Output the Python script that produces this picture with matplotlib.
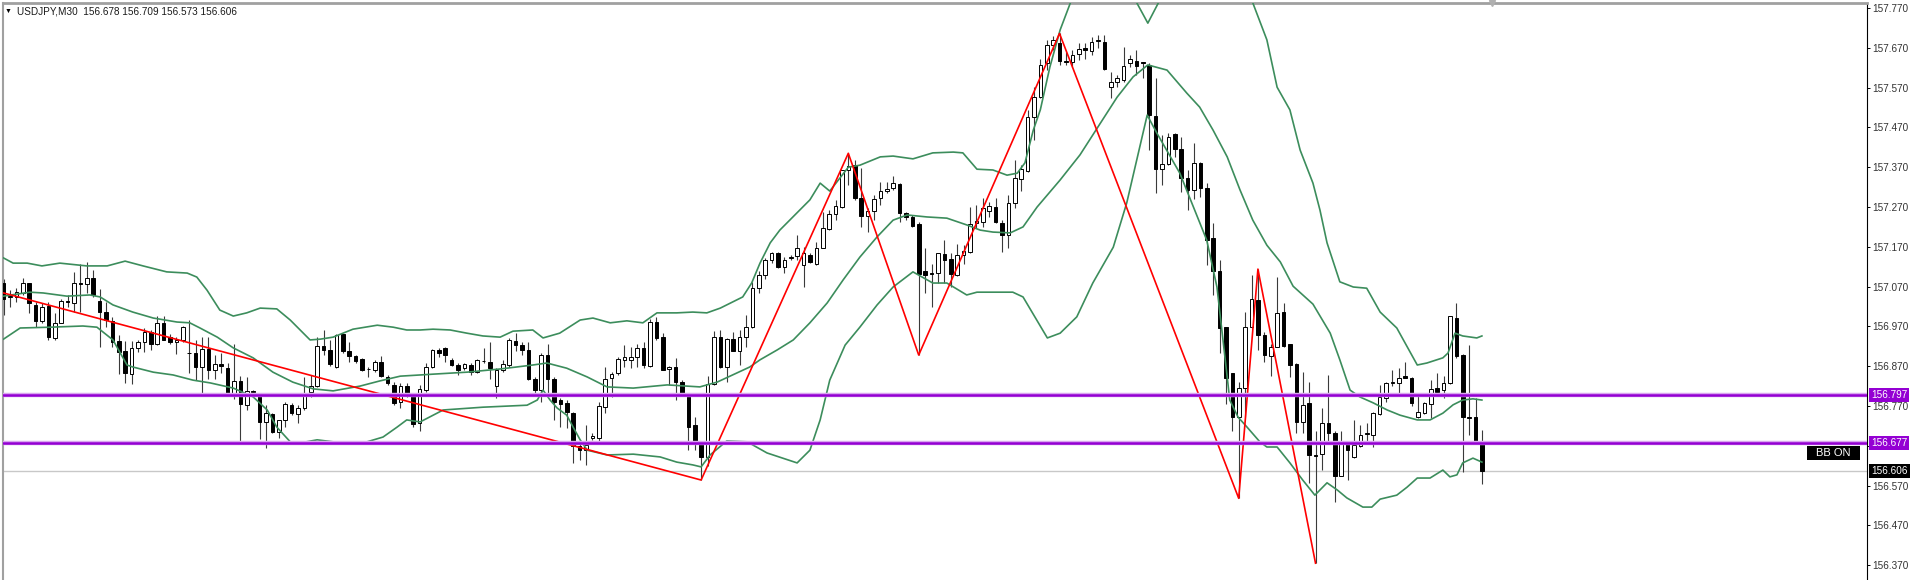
import numpy as np
import matplotlib
matplotlib.use("Agg")
import matplotlib.pyplot as plt
from matplotlib.patches import Rectangle
from matplotlib.transforms import blended_transform_factory

plt.rcParams['font.family'] = ['Liberation Sans', 'DejaVu Sans']

# USDJPY M30 candles
opens = [
    157.078, 157.044, 157.045, 157.055, 157.078, 157.025, 156.983, 157.022, 156.942, 156.979,
    157.033, 157.030, 157.078, 157.076, 157.092, 157.034, 157.007, 156.983, 156.933, 156.908,
    156.850, 156.916, 156.930, 156.955, 156.927, 156.978, 156.944, 156.932, 156.936, 156.903,
    156.902, 156.869, 156.912, 156.860, 156.875, 156.865, 156.800, 156.834, 156.772, 156.808,
    156.803, 156.731, 156.750, 156.705, 156.735, 156.772, 156.750, 156.764, 156.806, 156.821,
    156.921, 156.911, 156.869, 156.950, 156.908, 156.896, 156.887, 156.862, 156.860, 156.880,
    156.844, 156.823, 156.781, 156.819, 156.798, 156.727, 156.809, 156.867, 156.911, 156.915,
    156.886, 156.873, 156.865, 156.873, 156.856, 156.884, 156.881, 156.819, 156.860, 156.873,
    156.933, 156.923, 156.911, 156.837, 156.809, 156.898, 156.839, 156.785, 156.778, 156.752,
    156.670, 156.659, 156.689, 156.689, 156.767, 156.840, 156.852, 156.886, 156.886, 156.894,
    156.915, 156.871, 156.980, 156.943, 156.862, 156.867, 156.831, 156.799, 156.722, 156.680,
    156.643, 156.825, 156.943, 156.867, 156.938, 156.909, 156.943, 156.969, 157.066, 157.099,
    157.137, 157.154, 157.120, 157.143, 157.147, 157.124, 157.149, 157.127, 157.168, 157.214,
    157.252, 157.269, 157.363, 157.376, 157.292, 157.247, 157.261, 157.292, 157.311, 157.317,
    157.328, 157.256, 157.246, 157.227, 157.108, 157.102, 157.103, 157.151, 157.139, 157.099,
    157.149, 157.158, 157.229, 157.233, 157.261, 157.269, 157.231, 157.200, 157.281, 157.340,
    157.361, 157.495, 157.547, 157.631, 157.677, 157.683, 157.637, 157.635, 157.654, 157.669,
    157.663, 157.688, 157.685, 157.571, 157.585, 157.589, 157.633, 157.638, 157.633, 157.627,
    157.499, 157.365, 157.378, 157.453, 157.415, 157.342, 157.313, 157.381, 157.319, 157.191,
    157.110, 156.969, 156.852, 156.743, 156.814, 156.969, 157.036, 156.948, 156.896, 156.919,
    157.005, 156.925, 156.875, 156.731, 156.777, 156.647, 156.649, 156.728, 156.703, 156.594,
    156.678, 156.641, 156.670, 156.699, 156.697, 156.750, 156.789, 156.827, 156.827, 156.845,
    156.840, 156.742, 156.752, 156.775, 156.814, 156.810, 156.827, 156.990, 156.898, 156.743,
    156.743, 156.678]
highs = [
    157.088, 157.061, 157.066, 157.091, 157.080, 157.032, 157.028, 157.032, 157.003, 157.040,
    157.049, 157.106, 157.127, 157.133, 157.112, 157.063, 157.032, 156.994, 156.948, 156.933,
    156.933, 156.937, 156.965, 156.961, 156.996, 156.996, 156.951, 156.944, 156.971, 156.986,
    156.936, 156.944, 156.944, 156.898, 156.902, 156.877, 156.927, 156.845, 156.844, 156.809,
    156.803, 156.772, 156.752, 156.736, 156.781, 156.777, 156.772, 156.842, 156.848, 156.944,
    156.961, 156.936, 156.951, 156.952, 156.932, 156.898, 156.890, 156.869, 156.885, 156.896,
    156.848, 156.831, 156.827, 156.827, 156.802, 156.823, 156.877, 156.912, 156.915, 156.919,
    156.890, 156.877, 156.877, 156.877, 156.887, 156.915, 156.932, 156.865, 156.886, 156.940,
    156.953, 156.932, 156.932, 156.844, 156.902, 156.927, 156.844, 156.789, 156.785, 156.756,
    156.676, 156.722, 156.701, 156.781, 156.867, 156.856, 156.894, 156.923, 156.919, 156.927,
    156.932, 156.988, 156.993, 156.953, 156.871, 156.890, 156.835, 156.802, 156.743, 156.680,
    156.845, 156.959, 156.961, 156.940, 156.957, 156.961, 156.999, 157.082, 157.110, 157.141,
    157.157, 157.158, 157.145, 157.149, 157.200, 157.170, 157.154, 157.183, 157.258, 157.263,
    157.288, 157.363, 157.405, 157.388, 157.367, 157.267, 157.300, 157.334, 157.334, 157.348,
    157.330, 157.258, 157.250, 157.233, 157.166, 157.128, 157.155, 157.187, 157.154, 157.177,
    157.175, 157.269, 157.275, 157.292, 157.283, 157.292, 157.237, 157.300, 157.388, 157.376,
    157.514, 157.572, 157.641, 157.689, 157.700, 157.706, 157.660, 157.664, 157.683, 157.681,
    157.698, 157.702, 157.702, 157.610, 157.602, 157.673, 157.652, 157.664, 157.635, 157.631,
    157.593, 157.451, 157.455, 157.455, 157.445, 157.363, 157.430, 157.384, 157.330, 157.229,
    157.137, 156.969, 156.852, 156.831, 157.007, 157.099, 157.114, 156.957, 156.927, 157.095,
    157.028, 156.927, 156.877, 156.856, 156.831, 156.706, 156.764, 156.848, 156.706, 156.706,
    156.683, 156.735, 156.722, 156.727, 156.756, 156.823, 156.831, 156.861, 156.865, 156.881,
    156.842, 156.794, 156.781, 156.835, 156.854, 156.845, 156.996, 157.028, 156.901, 156.923,
    156.789, 156.709]
lows = [
    156.999, 157.020, 157.032, 157.049, 157.003, 156.968, 156.978, 156.936, 156.937, 156.978,
    157.020, 157.007, 157.007, 157.053, 157.045, 156.917, 156.969, 156.919, 156.850, 156.827,
    156.825, 156.906, 156.906, 156.911, 156.923, 156.936, 156.927, 156.901, 156.932, 156.854,
    156.835, 156.795, 156.839, 156.839, 156.852, 156.798, 156.787, 156.682, 156.760, 156.802,
    156.687, 156.664, 156.701, 156.689, 156.718, 156.747, 156.728, 156.760, 156.793, 156.818,
    156.898, 156.870, 156.865, 156.902, 156.881, 156.877, 156.858, 156.844, 156.856, 156.842,
    156.823, 156.772, 156.764, 156.793, 156.718, 156.706, 156.806, 156.865, 156.894, 156.881,
    156.871, 156.848, 156.860, 156.848, 156.854, 156.878, 156.837, 156.789, 156.856, 156.869,
    156.907, 156.898, 156.835, 156.798, 156.781, 156.793, 156.735, 156.718, 156.714, 156.626,
    156.634, 156.622, 156.685, 156.680, 156.752, 156.793, 156.848, 156.869, 156.865, 156.869,
    156.865, 156.869, 156.936, 156.860, 156.823, 156.785, 156.798, 156.659, 156.659, 156.584,
    156.618, 156.823, 156.865, 156.831, 156.907, 156.873, 156.919, 156.965, 157.054, 157.088,
    157.130, 157.116, 157.105, 157.137, 157.137, 157.070, 157.130, 157.124, 157.166, 157.212,
    157.237, 157.267, 157.325, 157.288, 157.221, 157.206, 157.237, 157.275, 157.304, 157.313,
    157.233, 157.237, 157.221, 156.898, 157.053, 157.020, 157.078, 157.080, 157.070, 157.097,
    157.128, 157.154, 157.216, 157.221, 157.246, 157.229, 157.158, 157.166, 157.267, 157.309,
    157.359, 157.438, 157.543, 157.614, 157.664, 157.627, 157.627, 157.622, 157.639, 157.643,
    157.652, 157.669, 157.614, 157.545, 157.572, 157.585, 157.622, 157.602, 157.593, 157.413,
    157.306, 157.325, 157.375, 157.396, 157.308, 157.263, 157.290, 157.296, 157.124, 157.049,
    156.902, 156.775, 156.706, 156.538, 156.743, 156.965, 156.911, 156.881, 156.845, 156.919,
    156.919, 156.844, 156.701, 156.701, 156.576, 156.375, 156.609, 156.680, 156.530, 156.593,
    156.584, 156.639, 156.668, 156.676, 156.668, 156.747, 156.781, 156.819, 156.798, 156.840,
    156.770, 156.739, 156.750, 156.739, 156.802, 156.789, 156.825, 156.890, 156.605, 156.697,
    156.676, 156.573]
closes = [
    157.040, 157.046, 157.057, 157.080, 157.028, 156.983, 157.020, 156.944, 156.979, 157.034,
    157.032, 157.078, 157.077, 157.091, 157.049, 157.007, 156.986, 156.932, 156.906, 156.852,
    156.915, 156.930, 156.955, 156.927, 156.979, 156.937, 156.932, 156.937, 156.968, 156.902,
    156.867, 156.912, 156.860, 156.875, 156.871, 156.800, 156.834, 156.775, 156.808, 156.805,
    156.731, 156.752, 156.705, 156.735, 156.775, 156.752, 156.764, 156.803, 156.821, 156.921,
    156.911, 156.875, 156.948, 156.909, 156.896, 156.884, 156.860, 156.863, 156.880, 156.845,
    156.827, 156.777, 156.819, 156.798, 156.725, 156.812, 156.867, 156.911, 156.902, 156.898,
    156.873, 156.861, 156.875, 156.856, 156.886, 156.882, 156.865, 156.860, 156.876, 156.936,
    156.923, 156.911, 156.837, 156.809, 156.898, 156.837, 156.781, 156.775, 156.756, 156.670,
    156.659, 156.672, 156.695, 156.770, 156.837, 156.850, 156.887, 156.892, 156.894, 156.915,
    156.873, 156.982, 156.940, 156.860, 156.867, 156.831, 156.802, 156.718, 156.680, 156.643,
    156.825, 156.943, 156.867, 156.938, 156.909, 156.943, 156.969, 157.066, 157.099, 157.137,
    157.154, 157.120, 157.137, 157.145, 157.168, 157.154, 157.133, 157.168, 157.216, 157.252,
    157.273, 157.363, 157.373, 157.292, 157.247, 157.261, 157.289, 157.311, 157.315, 157.330,
    157.256, 157.246, 157.222, 157.102, 157.099, 157.101, 157.154, 157.137, 157.102, 157.149,
    157.159, 157.227, 157.236, 157.267, 157.273, 157.233, 157.200, 157.281, 157.342, 157.365,
    157.495, 157.547, 157.627, 157.677, 157.689, 157.638, 157.635, 157.652, 157.666, 157.664,
    157.685, 157.689, 157.618, 157.585, 157.593, 157.624, 157.641, 157.624, 157.632, 157.501,
    157.365, 157.378, 157.447, 157.415, 157.342, 157.313, 157.380, 157.317, 157.187, 157.110,
    156.965, 156.840, 156.743, 156.814, 156.969, 157.038, 156.948, 156.898, 156.919, 157.003,
    156.921, 156.873, 156.731, 156.773, 156.647, 156.645, 156.728, 156.701, 156.594, 156.678,
    156.660, 156.672, 156.697, 156.700, 156.753, 156.793, 156.827, 156.828, 156.840, 156.840,
    156.777, 156.756, 156.778, 156.812, 156.804, 156.829, 156.995, 156.896, 156.743, 156.741,
    156.678, 156.606]

# Bollinger bands, sampled along the bar index
bb_upper_idx = [0, 1.5, 3.7, 6.0, 8.8, 13.0, 16.2, 19.0, 21.8, 25.5, 28.7, 30.2, 31.8, 33.8,
                35.9, 38.0, 40.1, 42.7, 44.8, 47.9, 49.5, 51.5, 54.6, 58.4, 60.9, 63.0, 65.1,
                67.1, 69.8, 72.4, 74.9, 77.6, 79.6, 82.7, 84.3, 86.9, 90.1, 92.1, 94.8, 97.4,
                99.9, 102.1, 105.2, 107.7, 109.9, 112.0, 115.5, 116.9, 118.2, 119.8, 121.3,
                126.0, 127.6, 129.1, 132.0, 133.8, 137.0, 139.0, 142.1, 145.2, 148.4, 149.9,
                152.1, 154.6, 156.8, 158.4, 159.6, 160.9, 162.0, 163.5, 165.1, 166.7, 171.0,
                176.5, 178.8, 181.0, 188.0, 195.2, 197.4, 199.0, 201.0, 202.6, 204.6, 205.7,
                206.8, 208.8, 210.9, 213.0, 215.1, 217.7, 220.9, 222.4, 224.9, 225.7, 226.8,
                228.0, 230.2, 231.0]
bb_upper = [157.142, 157.129, 157.129, 157.122, 157.129, 157.122, 157.122, 157.134, 157.122,
            157.107, 157.104, 157.094, 157.061, 157.011, 156.996, 157.004, 157.016, 157.014,
            156.986, 156.936, 156.938, 156.943, 156.963, 156.973, 156.968, 156.961, 156.961,
            156.963, 156.961, 156.953, 156.946, 156.943, 156.958, 156.961, 156.941, 156.953,
            156.986, 156.991, 156.979, 156.984, 156.979, 157.004, 157.004, 157.006, 157.004,
            157.016, 157.044, 157.079, 157.129, 157.180, 157.212, 157.288, 157.330, 157.310,
            157.370, 157.375, 157.396, 157.398, 157.391, 157.406, 157.408, 157.406, 157.365,
            157.363, 157.350, 157.355, 157.381, 157.463, 157.514, 157.622, 157.715, 157.783,
            157.900, 157.800, 157.732, 157.800, 157.950, 157.783, 157.690, 157.571, 157.514,
            157.413, 157.330, 157.262, 157.180, 157.082, 157.069, 157.066, 157.006, 156.966,
            156.873, 156.878, 156.891, 156.903, 156.953, 156.946, 156.941, 156.946]

bb_mid_idx = [0, 4.1, 6.2, 9.9, 13.5, 15.1, 17.1, 20.2, 23.4, 27.1, 29.1, 30.7, 33.4, 35.9,
              39.0, 42.1, 45.2, 48.4, 51.5, 55.7, 58.8, 62.0, 65.1, 67.1, 72.4, 77.6, 82.7,
              84.9, 88.0, 91.2, 94.3, 98.4, 103.7, 108.8, 111.5, 116.6, 118.2, 120.9, 123.4,
              126.0, 128.7, 131.2, 133.8, 136.5, 139.0, 141.2, 144.3, 147.4, 150.5, 152.6,
              154.6, 157.3, 159.3, 161.5, 165.1, 168.2, 170.2, 174.0, 176.5, 178.8, 181.8,
              184.9, 186.9, 189.0, 191.2, 193.2, 195.2, 197.4, 199.5, 201.5, 204.6, 207.3,
              208.8, 210.4, 211.9, 214.0, 216.2, 218.2, 220.9, 222.9, 224.9, 226.5, 228.0,
              229.6, 231.0]
bb_mid = [157.046, 157.056, 157.054, 157.046, 157.049, 157.044, 157.024, 157.006, 156.991,
          156.981, 156.979, 156.966, 156.943, 156.916, 156.891, 156.855, 156.830, 156.813,
          156.808, 156.820, 156.833, 156.845, 156.848, 156.850, 156.855, 156.863, 156.873,
          156.878, 156.865, 156.843, 156.818, 156.815, 156.823, 156.818, 156.830, 156.868,
          156.886, 156.911, 156.936, 156.979, 157.029, 157.087, 157.144, 157.195, 157.237,
          157.250, 157.245, 157.242, 157.225, 157.212, 157.207, 157.205, 157.220, 157.270,
          157.338, 157.401, 157.451, 157.546, 157.597, 157.627, 157.614, 157.556, 157.521,
          157.463, 157.396, 157.313, 157.237, 157.174, 157.132, 157.071, 157.026, 156.953,
          156.886, 156.810, 156.793, 156.778, 156.760, 156.747, 156.735, 156.735, 156.752,
          156.773, 156.785, 156.788, 156.785]

bb_lower_idx = [0, 2.6, 7.3, 12.4, 14.6, 17.1, 19.3, 20.2, 23.4, 26.5, 29.6, 32.3, 35.9,
                39.0, 41.2, 42.7, 44.8, 46.3, 49.0, 51.5, 54.1, 56.8, 59.3, 61.5, 63.0, 65.1,
                68.7, 74.9, 81.8, 83.4, 84.3, 85.4, 86.5, 88.0, 89.0, 90.1, 91.2, 94.3, 98.4,
                102.6, 105.2, 107.7, 109.0, 110.4, 113.0, 116.2, 119.3, 124.0, 126.0, 127.6,
                129.1, 131.5, 133.8, 136.5, 139.0, 142.1, 145.2, 147.4, 150.5, 152.1, 157.7,
                159.3, 163.1, 165.1, 167.7, 170.2, 173.4, 175.5, 178.7, 180.2, 183.8, 188.0,
                189.6, 191.2, 191.6, 192.9, 194.3, 196.3, 197.4, 199.0, 201.0, 203.0, 204.9,
                206.8, 208.4, 209.9, 212.4, 213.8, 215.1, 217.7, 219.3, 220.9, 222.9, 224.9,
                226.0, 227.1, 228.0, 229.6, 231.0]
bb_lower = [156.938, 156.966, 156.968, 156.971, 156.968, 156.936, 156.873, 156.868, 156.855,
            156.848, 156.835, 156.828, 156.815, 156.793, 156.760, 156.717, 156.680, 156.677,
            156.685, 156.680, 156.677, 156.680, 156.692, 156.717, 156.735, 156.730, 156.760,
            156.767, 156.772, 156.785, 156.810, 156.785, 156.765, 156.747, 156.717, 156.685,
            156.659, 156.647, 156.649, 156.642, 156.629, 156.622, 156.617, 156.647, 156.682,
            156.680, 156.652, 156.627, 156.659, 156.735, 156.835, 156.923, 156.968, 157.024,
            157.069, 157.107, 157.079, 157.079, 157.049, 157.056, 157.056, 157.044, 156.941,
            156.953, 156.994, 157.079, 157.169, 157.280, 157.501, 157.456, 157.355, 157.187,
            157.069, 156.843, 156.785, 156.742, 156.717, 156.680, 156.667, 156.667, 156.627,
            156.584, 156.546, 156.577, 156.559, 156.539, 156.516, 156.516, 156.536, 156.546,
            156.566, 156.589, 156.589, 156.609, 156.592, 156.597, 156.627, 156.639, 156.629]

# ZigZag swing points
zigzag_idx = [0, 109, 132, 143, 165, 193, 196, 205]
zigzag_price = [157.054, 156.584, 157.405, 156.898, 157.706, 156.538, 157.114, 156.375]

levels = [156.797, 156.677]
last_price = 156.606
yticks = [156.370 + 0.1 * k for k in range(15)]
title = "USDJPY,M30  156.678 156.709 156.573 156.606"

W, H = 1917, 580
fig = plt.figure(figsize=(W / 100, H / 100), dpi=100)
ax = fig.add_axes([3 / W, 0, 1864 / W, 577 / H])

o = np.array(opens); c = np.array(closes)
hi = np.maximum(np.array(highs), np.maximum(o, c))
lo = np.minimum(np.array(lows), np.minimum(o, c))
x = np.arange(len(o))
up = c >= o

# last price line
ax.axhline(last_price, color='#c8c8c8', lw=1.0, zorder=1)

# candles
ax.vlines(x, lo, hi, color='#3a3a3a', lw=0.8, zorder=2)
body = np.maximum(np.abs(c - o), 0.0022)
ax.bar(x[up], body[up], bottom=np.minimum(o, c)[up], width=0.56,
       color='white', edgecolor='black', lw=0.7, zorder=3)
ax.bar(x[~up], body[~up], bottom=np.minimum(o, c)[~up], width=0.56,
       color='black', edgecolor='black', lw=0.7, zorder=3)

# bollinger bands
for bx, by in [(bb_upper_idx, bb_upper), (bb_mid_idx, bb_mid), (bb_lower_idx, bb_lower)]:
    ax.plot(bx, by, color='#3c8d5c', lw=1.2, zorder=4)

# zigzag
ax.plot(zigzag_idx, zigzag_price, color='#ff0000', lw=1.2, zorder=5)

# horizontal levels
for lv in levels:
    ax.axhline(lv, color='#d9a6ef', lw=3.2, zorder=6)
    ax.axhline(lv, color='#9400d3', lw=1.8, zorder=6)

ax.set_xlim(-0.08, 291.17)
ax.set_ylim(156.3328, 157.7826)

ax.set_xticks([])
ax.yaxis.tick_right()
ax.set_yticks(yticks)
ax.set_yticklabels([f"{t:.3f}" for t in yticks])
ax.tick_params(axis='y', direction='out', length=2.5, width=0.7, pad=1.5,
               labelsize=7.2, labelcolor='#333333', color='black')

for s in ['bottom']:
    ax.spines[s].set_visible(False)
ax.spines['right'].set_color('black')
ax.spines['right'].set_linewidth(0.8)
ax.spines['top'].set_color('#a0a0a0')
ax.spines['top'].set_linewidth(2.0)
ax.spines['left'].set_color('#a0a0a0')
ax.spines['left'].set_linewidth(1.5)

# price labels on the right axis
trans = blended_transform_factory(ax.transAxes, ax.transData)
for lv in levels:
    ax.text(1.0 + 4 / 1864, lv, f"{lv:.3f}", transform=trans, ha='left', va='center',
            fontsize=7.2, color='white', clip_on=False, zorder=10,
            bbox=dict(boxstyle='square,pad=0.22', fc='#9400d3', ec='none'))
ax.text(1.0 + 4 / 1864, last_price, f"{last_price:.3f}", transform=trans, ha='left',
        va='center', fontsize=7.2, color='white', clip_on=False, zorder=10,
        bbox=dict(boxstyle='square,pad=0.22', fc='black', ec='none'))

# "BB ON" badge
fig.patches.append(Rectangle((1807 / W, 1 - 460 / H), 53 / W, 14 / H,
                             transform=fig.transFigure, fc='black', ec='none'))
fig.text(1833.5 / W, 1 - 453 / H, "BB ON", ha='center', va='center',
         fontsize=8, color='white')

# title line
fig.text(5 / W, 1 - 11.5 / H, "\u25bc", fontsize=5, color='black', va='center')
fig.text(17 / W, 1 - 11 / H, title, fontsize=7.2, color='#1a1a1a', va='center')

# chart shift marker at the top
ax.plot([(1492 - 3) / 1864], [1.0], marker='v', ms=5, color='#b0b0b0',
        transform=ax.transAxes, clip_on=False, zorder=10)

fig.savefig("out.png", dpi=100)
